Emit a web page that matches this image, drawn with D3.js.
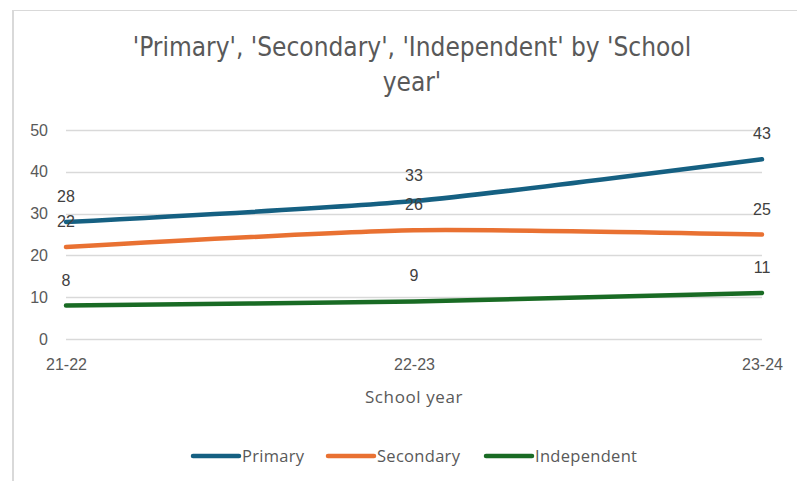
<!DOCTYPE html>
<html>
<head>
<meta charset="utf-8">
<script src="https://cdn.jsdelivr.net/npm/d3@7"></script>
<style>
  html, body { margin: 0; padding: 0; background: #fff; }
  svg { display: block; }
</style>
</head>
<body>
<svg id="chart" width="797" height="481"></svg>
<script>
// School year categories and the three series
const years = ["21-22", "22-23", "23-24"];
const primary = [28, 33, 43];
const secondary = [22, 26, 25];
const independent = [8, 9, 11];
const yTicks = [0, 10, 20, 30, 40, 50];
const seriesNames = ["Primary", "Secondary", "Independent"];
const seriesColors = ["#156082", "#E97132", "#196B24"];

const series = [
  { name: seriesNames[0], values: primary, color: seriesColors[0] },
  { name: seriesNames[1], values: secondary, color: seriesColors[1] },
  { name: seriesNames[2], values: independent, color: seriesColors[2] }
];

const svg = d3.select("#chart");

// outer chart frame (left and top edges visible)
svg.append("line").attr("x1", 13).attr("x2", 13).attr("y1", 10).attr("y2", 481)
  .attr("stroke", "#d9d9d9").attr("stroke-width", 2);
svg.append("line").attr("x1", 12).attr("x2", 797).attr("y1", 10.5).attr("y2", 10.5)
  .attr("stroke", "#d9d9d9").attr("stroke-width", 1);

// title
const title = svg.append("text")
  .attr("text-anchor", "middle")
  .attr("fill", "#595959")
  .style("font-family", "'Liberation Sans Narrow', 'DejaVu Sans Condensed', sans-serif")
  .style("font-size", "26px");
title.append("tspan").attr("x", 412).attr("y", 56).text("'Primary', 'Secondary', 'Independent' by 'School");
title.append("tspan").attr("x", 412).attr("y", 91).text("year'");

const x = d3.scalePoint().domain(years).range([66, 762]);
const y = d3.scaleLinear().domain([0, 50]).range([339, 130]);

// gridlines
svg.append("g").selectAll("line").data(yTicks).join("line")
  .attr("x1", 66).attr("x2", 762)
  .attr("y1", d => Math.round(y(d)) + 0.5).attr("y2", d => Math.round(y(d)) + 0.5)
  .attr("stroke", "#d9d9d9").attr("stroke-width", 1.5);

// y axis labels
const yAxis = d3.axisLeft(y).tickValues(yTicks).tickSize(0).tickPadding(0);
svg.append("g").attr("transform", "translate(48,0)").call(yAxis)
  .call(g => g.select(".domain").remove())
  .call(g => g.selectAll("text")
    .attr("fill", "#595959")
    .style("font-family", "'Liberation Sans', Arial, sans-serif")
    .style("font-size", "16px"));

// x axis labels
const xAxis = d3.axisBottom(x).tickSize(0).tickPadding(0);
svg.append("g").attr("transform", "translate(0,359)").call(xAxis)
  .call(g => g.select(".domain").remove())
  .call(g => g.selectAll("text")
    .attr("fill", "#595959")
    .style("font-family", "'Liberation Sans', Arial, sans-serif")
    .style("font-size", "16px"));

// x axis title
svg.append("text")
  .attr("x", 414).attr("y", 403)
  .attr("text-anchor", "middle")
  .attr("fill", "#595959")
  .style("font-family", "'Open Sans', sans-serif")
  .style("font-size", "17px")
  .style("letter-spacing", "0.6px")
  .text("School year");

// smoothed series lines
const line = d3.line()
  .x((d, i) => x(years[i]))
  .y(d => y(d))
  .curve(d3.curveCardinal.tension(0.35));

svg.append("g").selectAll("path").data(series).join("path")
  .attr("d", s => line(s.values))
  .attr("fill", "none")
  .attr("stroke", s => s.color)
  .attr("stroke-width", 4.5)
  .attr("stroke-linecap", "round");

// data labels above each point
series.forEach(s => {
  svg.append("g").selectAll("text").data(s.values).join("text")
    .attr("x", (d, i) => x(years[i]))
    .attr("y", d => y(d) - 20)
    .attr("text-anchor", "middle")
    .attr("fill", "#404040")
    .style("font-family", "'Liberation Sans', Arial, sans-serif")
    .style("font-size", "16px")
    .text(d => d);
});

// legend
const legendX = [193, 328, 486];
const legend = svg.append("g").selectAll("g").data(series).join("g")
  .attr("transform", (d, i) => `translate(${legendX[i]},456)`);
legend.append("line")
  .attr("x1", 0).attr("x2", 46).attr("y1", 0).attr("y2", 0)
  .attr("stroke", d => d.color).attr("stroke-width", 4.5)
  .attr("stroke-linecap", "round");
legend.append("text")
  .attr("x", 49).attr("y", 6)
  .attr("fill", "#595959")
  .style("font-family", "'Open Sans', sans-serif")
  .style("font-size", "16.5px")
  .style("letter-spacing", "0.3px")
  .text(d => d.name);
</script>
</body>
</html>
